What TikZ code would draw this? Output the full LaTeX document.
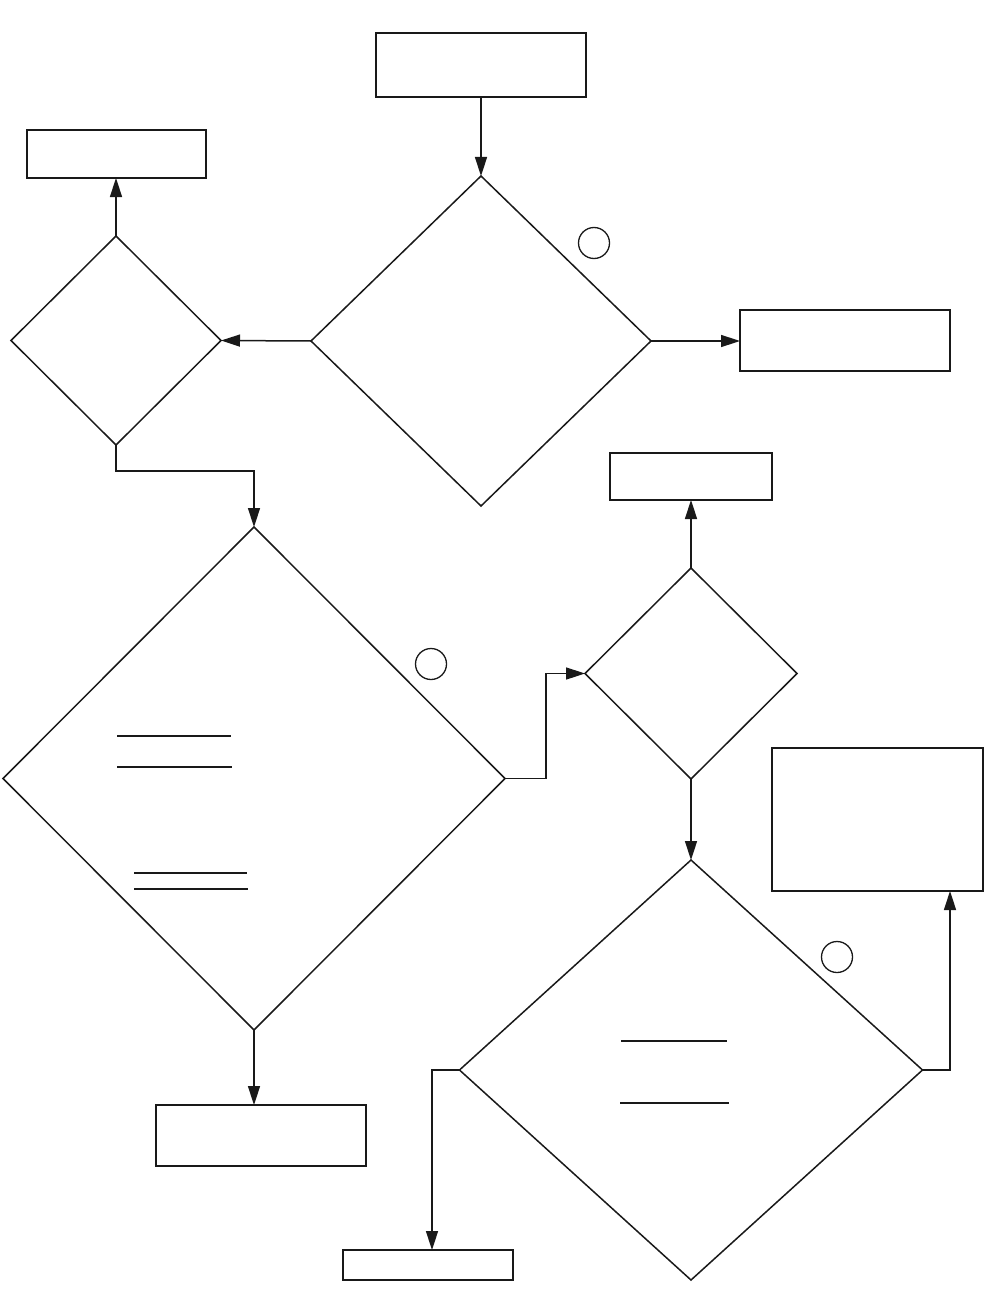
\documentclass[tikz,border=0pt]{standalone}
\usetikzlibrary{shapes.geometric,arrows.meta,calc}
\begin{document}
\begin{tikzpicture}[x=1pt,y=-1pt,
  boxnode/.style={draw=black!90,line width=2pt,rectangle,inner sep=0pt,outer sep=0pt},
  dia/.style={draw=black!90,line width=1.5pt,diamond,inner sep=0pt,outer sep=0pt,shape aspect=1},
  ring/.style={draw=black!90,line width=1.3pt,circle,inner sep=0pt,minimum size=31pt},
  arr/.style={draw=black!90,line width=1.5pt,-{Triangle[length=19pt,width=12pt]}},
  bar/.style={draw=black!90,line width=1.6pt}]
\useasboundingbox (0,0) rectangle (985,1316);
% boxes
\node[boxnode,minimum width=210pt,minimum height=64pt] (top) at (481,65) {};
\node[boxnode,minimum width=179pt,minimum height=48pt] (bl) at (116,154) {};
\node[boxnode,minimum width=210pt,minimum height=61pt] (r1) at (845,340) {};
\node[boxnode,minimum width=162pt,minimum height=47pt] (r2) at (691,476.5) {};
\node[boxnode,minimum width=210pt,minimum height=61pt] (b3) at (261,1135.5) {};
\node[boxnode,minimum width=211pt,minimum height=143pt] (r3) at (877.5,819.5) {};
\node[boxnode,minimum width=170pt,minimum height=30pt] (b5) at (428,1265) {};
% diamonds
\node[dia,minimum width=340pt,minimum height=330pt] (d1) at (481,341) {};
\node[dia,minimum width=210pt,minimum height=209pt] (d2) at (116,340.5) {};
\node[dia,minimum width=502pt,minimum height=503pt] (d3) at (254,778.5) {};
\node[dia,minimum width=212pt,minimum height=211pt] (d4) at (691,673.5) {};
\node[dia,minimum width=463pt,minimum height=420pt] (d5) at (691,1070) {};
% circles
\node[ring] (c1) at (594,243) {};
\node[ring] (c2) at (431,664) {};
\node[ring] (c3) at (837,957) {};
% bars inside diamonds
\draw[bar] (117,736) -- (231,736);
\draw[bar,line width=1.1pt] (117,767) -- (232,767);
\draw[bar] (134,873) -- (247,873);
\draw[bar] (134,889) -- (248,889);
\draw[bar] (621,1041) -- (727,1041);
\draw[bar] (620,1103) -- (729,1103);
% connectors
\draw[arr] (top.south) -- (d1.north);
\draw[arr] (d1.east) -- (d1.east -| r1.west);
\draw[arr] (d1.west) -- (d2.east);
\draw[arr] (d2.north) -- (bl.south);
\draw[arr] (d2.south) -- ++(0,26) -| (d3.north);
\draw[arr] (d3.east) -- ++(41,0) |- (d4.west);
\draw[arr] (d4.north) -- (r2.south);
\draw[arr] (d4.south) -- (d5.north);
\draw[arr] (d3.south) -- (d3.south |- b3.north);
\draw[arr] (d5.west) -| ($(b5.north)+(4,0)$);
\draw[arr] (d5.east) -| ($(r3.south)+(72.5,0)$);
\end{tikzpicture}
\end{document}
